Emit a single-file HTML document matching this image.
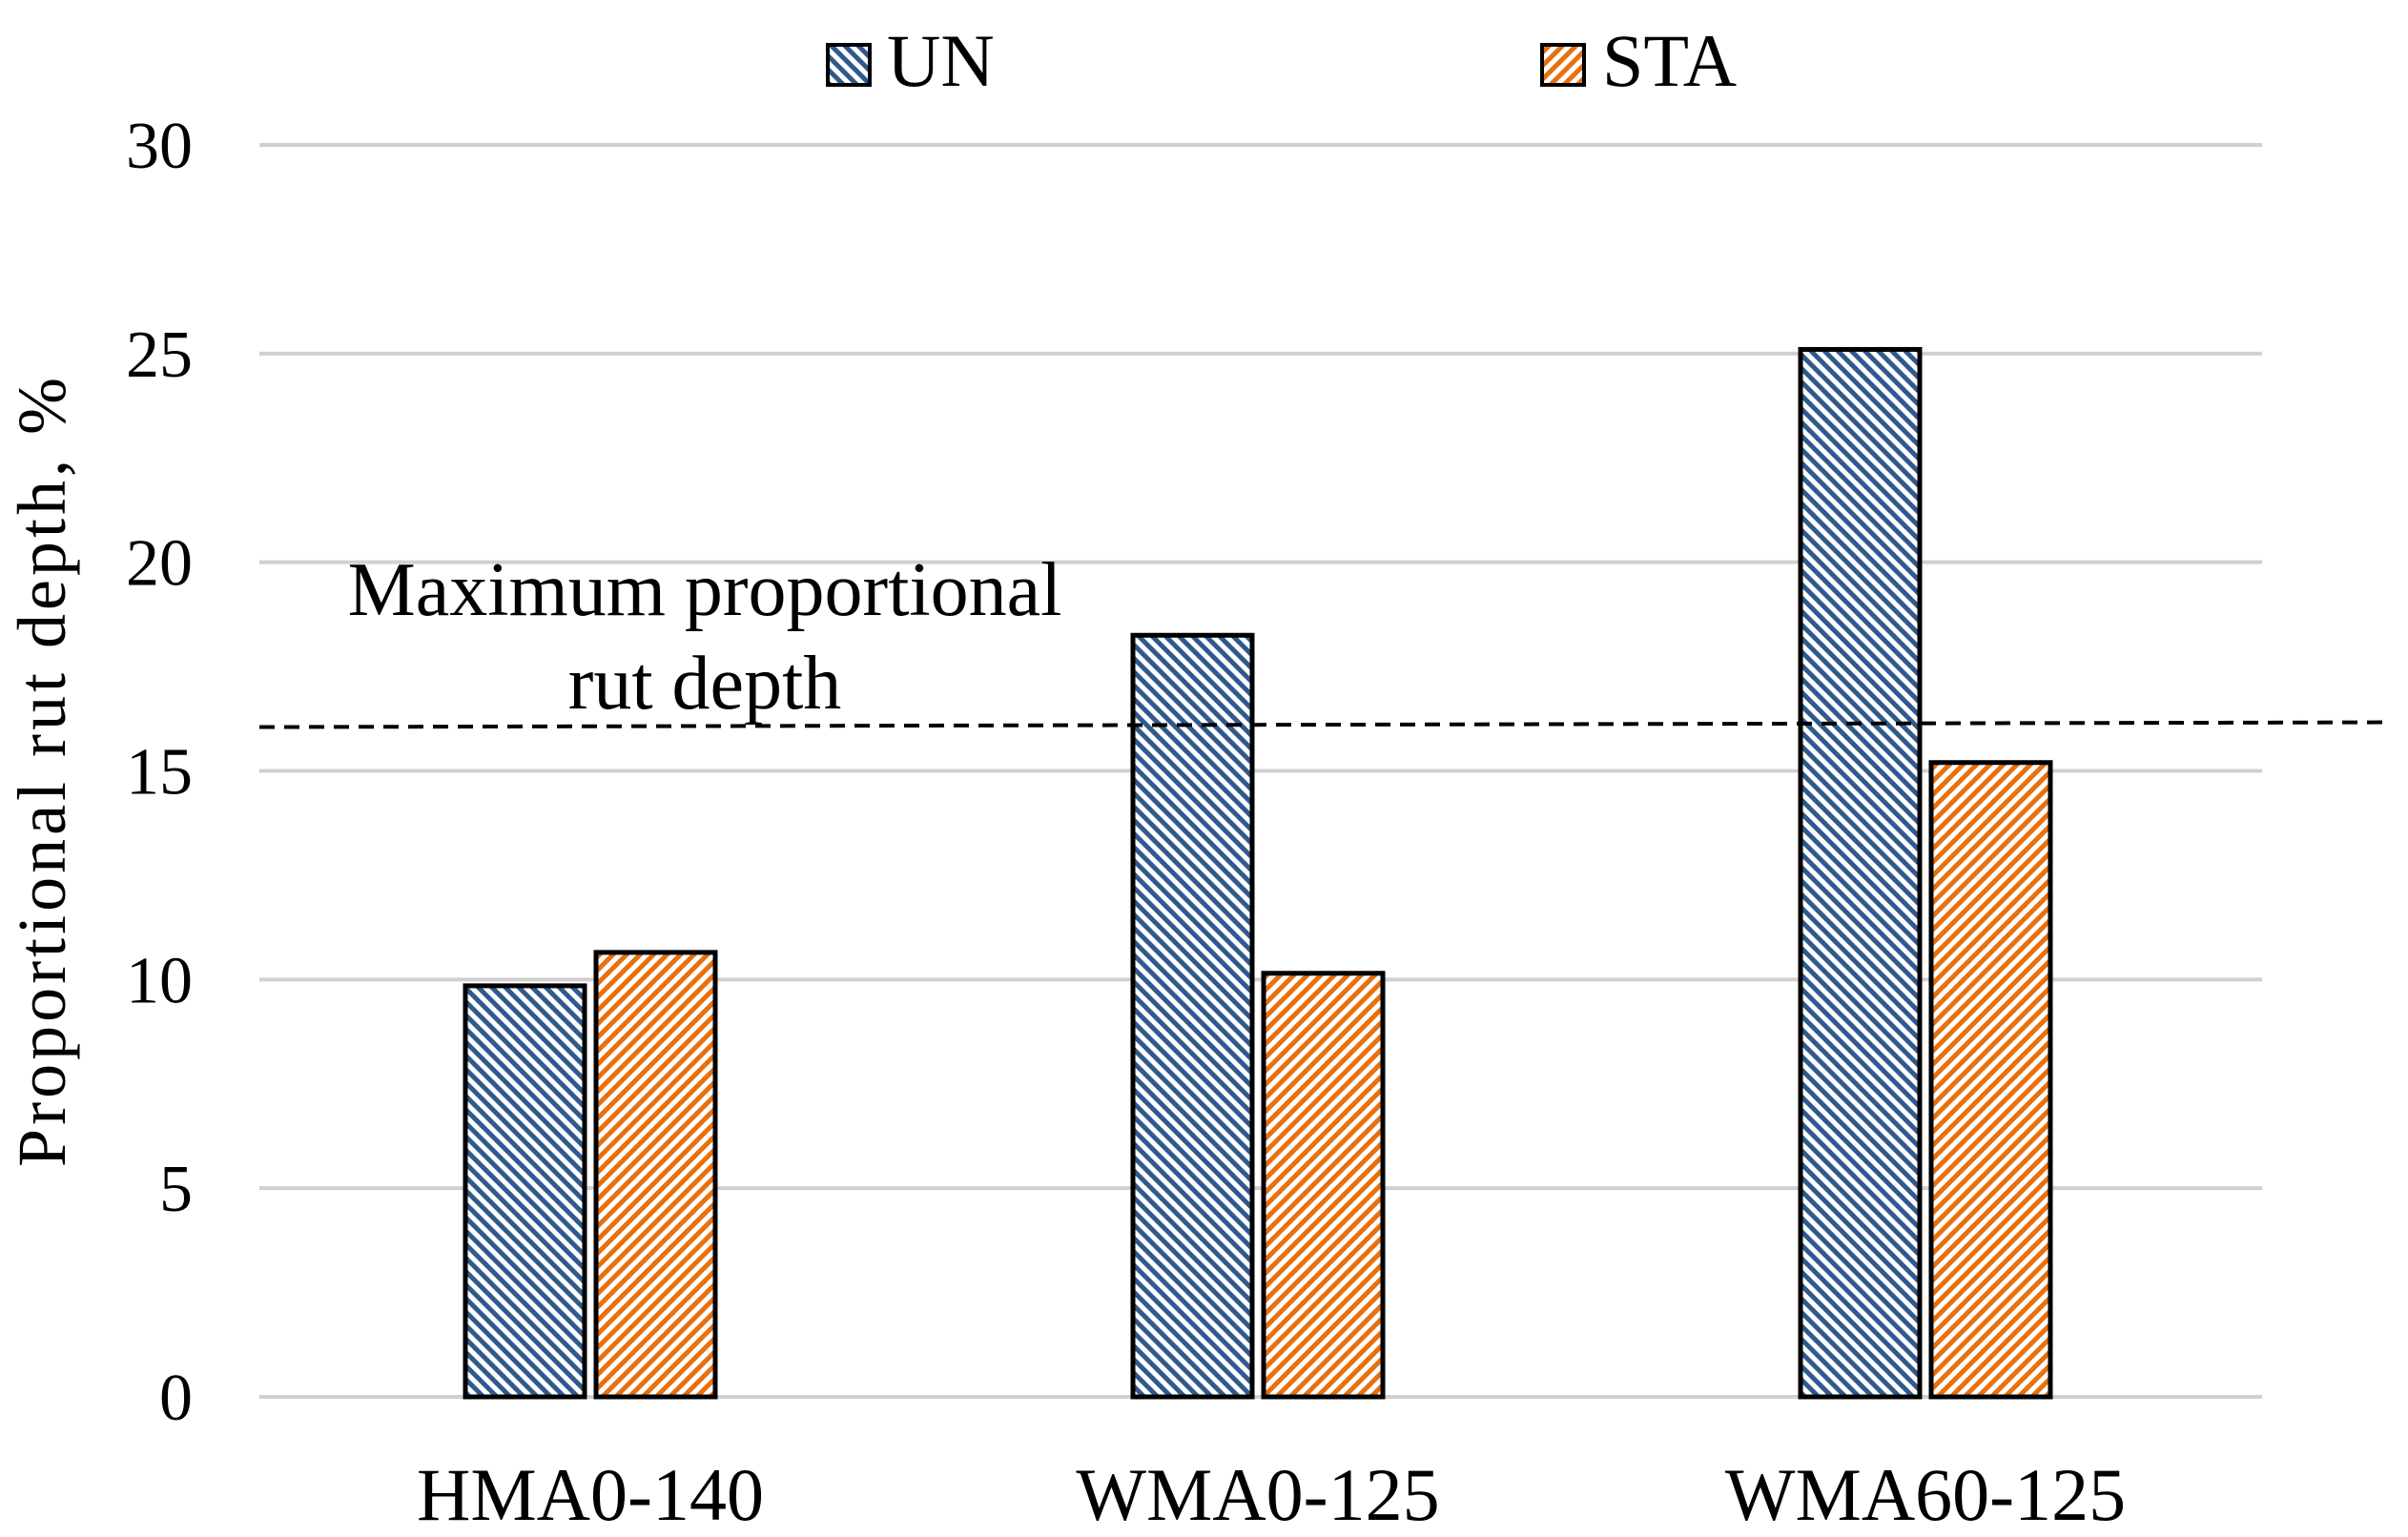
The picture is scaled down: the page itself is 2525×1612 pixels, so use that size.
<!DOCTYPE html>
<html><head><meta charset="utf-8"><style>
html,body{margin:0;padding:0;background:#fff;}
svg{display:block;font-family:"Liberation Serif",serif;}
</style></head><body>
<svg id="chart" width="2525" height="1612" viewBox="0 0 2525 1612">
<defs>
<pattern id="pUN" patternUnits="userSpaceOnUse" width="10" height="10" patternTransform="rotate(-45)">
<rect width="10" height="10" fill="#fff"/><rect width="5" height="10" fill="#2F5A8E"/></pattern>
<pattern id="pSTA" patternUnits="userSpaceOnUse" width="10" height="10" patternTransform="rotate(45)">
<rect width="10" height="10" fill="#fff"/><rect width="5" height="10" fill="#E8700E"/></pattern>
</defs>
<g id="grid"></g><g id="bars"></g><g id="labels"></g>
<text x="68" y="808" font-size="72" letter-spacing="4" text-anchor="middle" transform="rotate(-90 68 808)">Proportional rut depth,  %</text>
<g>
<rect x="868" y="47" width="44" height="42" fill="url(#pUN)" stroke="#000" stroke-width="4"/>
<text x="930" y="90" font-size="78">UN</text>
<rect x="1617" y="47" width="44" height="42" fill="url(#pSTA)" stroke="#000" stroke-width="4"/>
<text x="1680" y="90" font-size="78">STA</text>
</g>
<text x="739" y="645" font-size="80" text-anchor="middle">Maximum proportional</text>
<text x="739" y="743" font-size="80" text-anchor="middle">rut depth</text>
</svg>
<script>
const categories=["HMA0-140","WMA0-125","WMA60-125"];
const unValues=[9.85,18.25,25.1];
const staValues=[10.65,10.15,15.2];
const yTicks=[0,5,10,15,20,25,30];
const thresholdValue=16.05;
const NS="http://www.w3.org/2000/svg";
const L=272,R=2372,Y0=1465,Y30=152;
const y=v=>Y0-(v/30)*(Y0-Y30);
const band=(R-L)/categories.length;
const cx=i=>L+band*(i+0.5);
function mk(tag,attrs,parent,text){const e=document.createElementNS(NS,tag);for(const k in attrs)e.setAttribute(k,attrs[k]);if(text!==undefined)e.textContent=text;document.getElementById(parent).appendChild(e);return e;}
yTicks.forEach(t=>{
  const g=mk('line',{x1:L,x2:R,y1:y(t),y2:y(t),stroke:'#d0d0d0','stroke-width':4},'grid');
  
  
  const tl=mk('text',{x:202,y:y(t)+24,'font-size':70,'text-anchor':'end'},'labels',String(t));
  
  
});
const bw=125,gap=12;
categories.forEach((c,i)=>{
  const u=mk('rect',{x:cx(i)-gap/2-bw-3,y:y(unValues[i]),width:bw,height:Y0-y(unValues[i]),fill:'url(#pUN)',stroke:'#000','stroke-width':5},'bars');
  
  
  const s=mk('rect',{x:cx(i)+gap/2-3,y:y(staValues[i]),width:bw,height:Y0-y(staValues[i]),fill:'url(#pSTA)',stroke:'#000','stroke-width':5},'bars');
  
  
  const xl=mk('text',{x:cx(i)-3,y:1594,'font-size':78,'text-anchor':'middle'},'labels',c);
  
  
});
const th=mk('line',{x1:L,x2:2505,y1:y(thresholdValue),y2:y(thresholdValue)-5,stroke:'#000','stroke-width':4,'stroke-dasharray':'16 10'},'bars');


</script>
</body></html>
